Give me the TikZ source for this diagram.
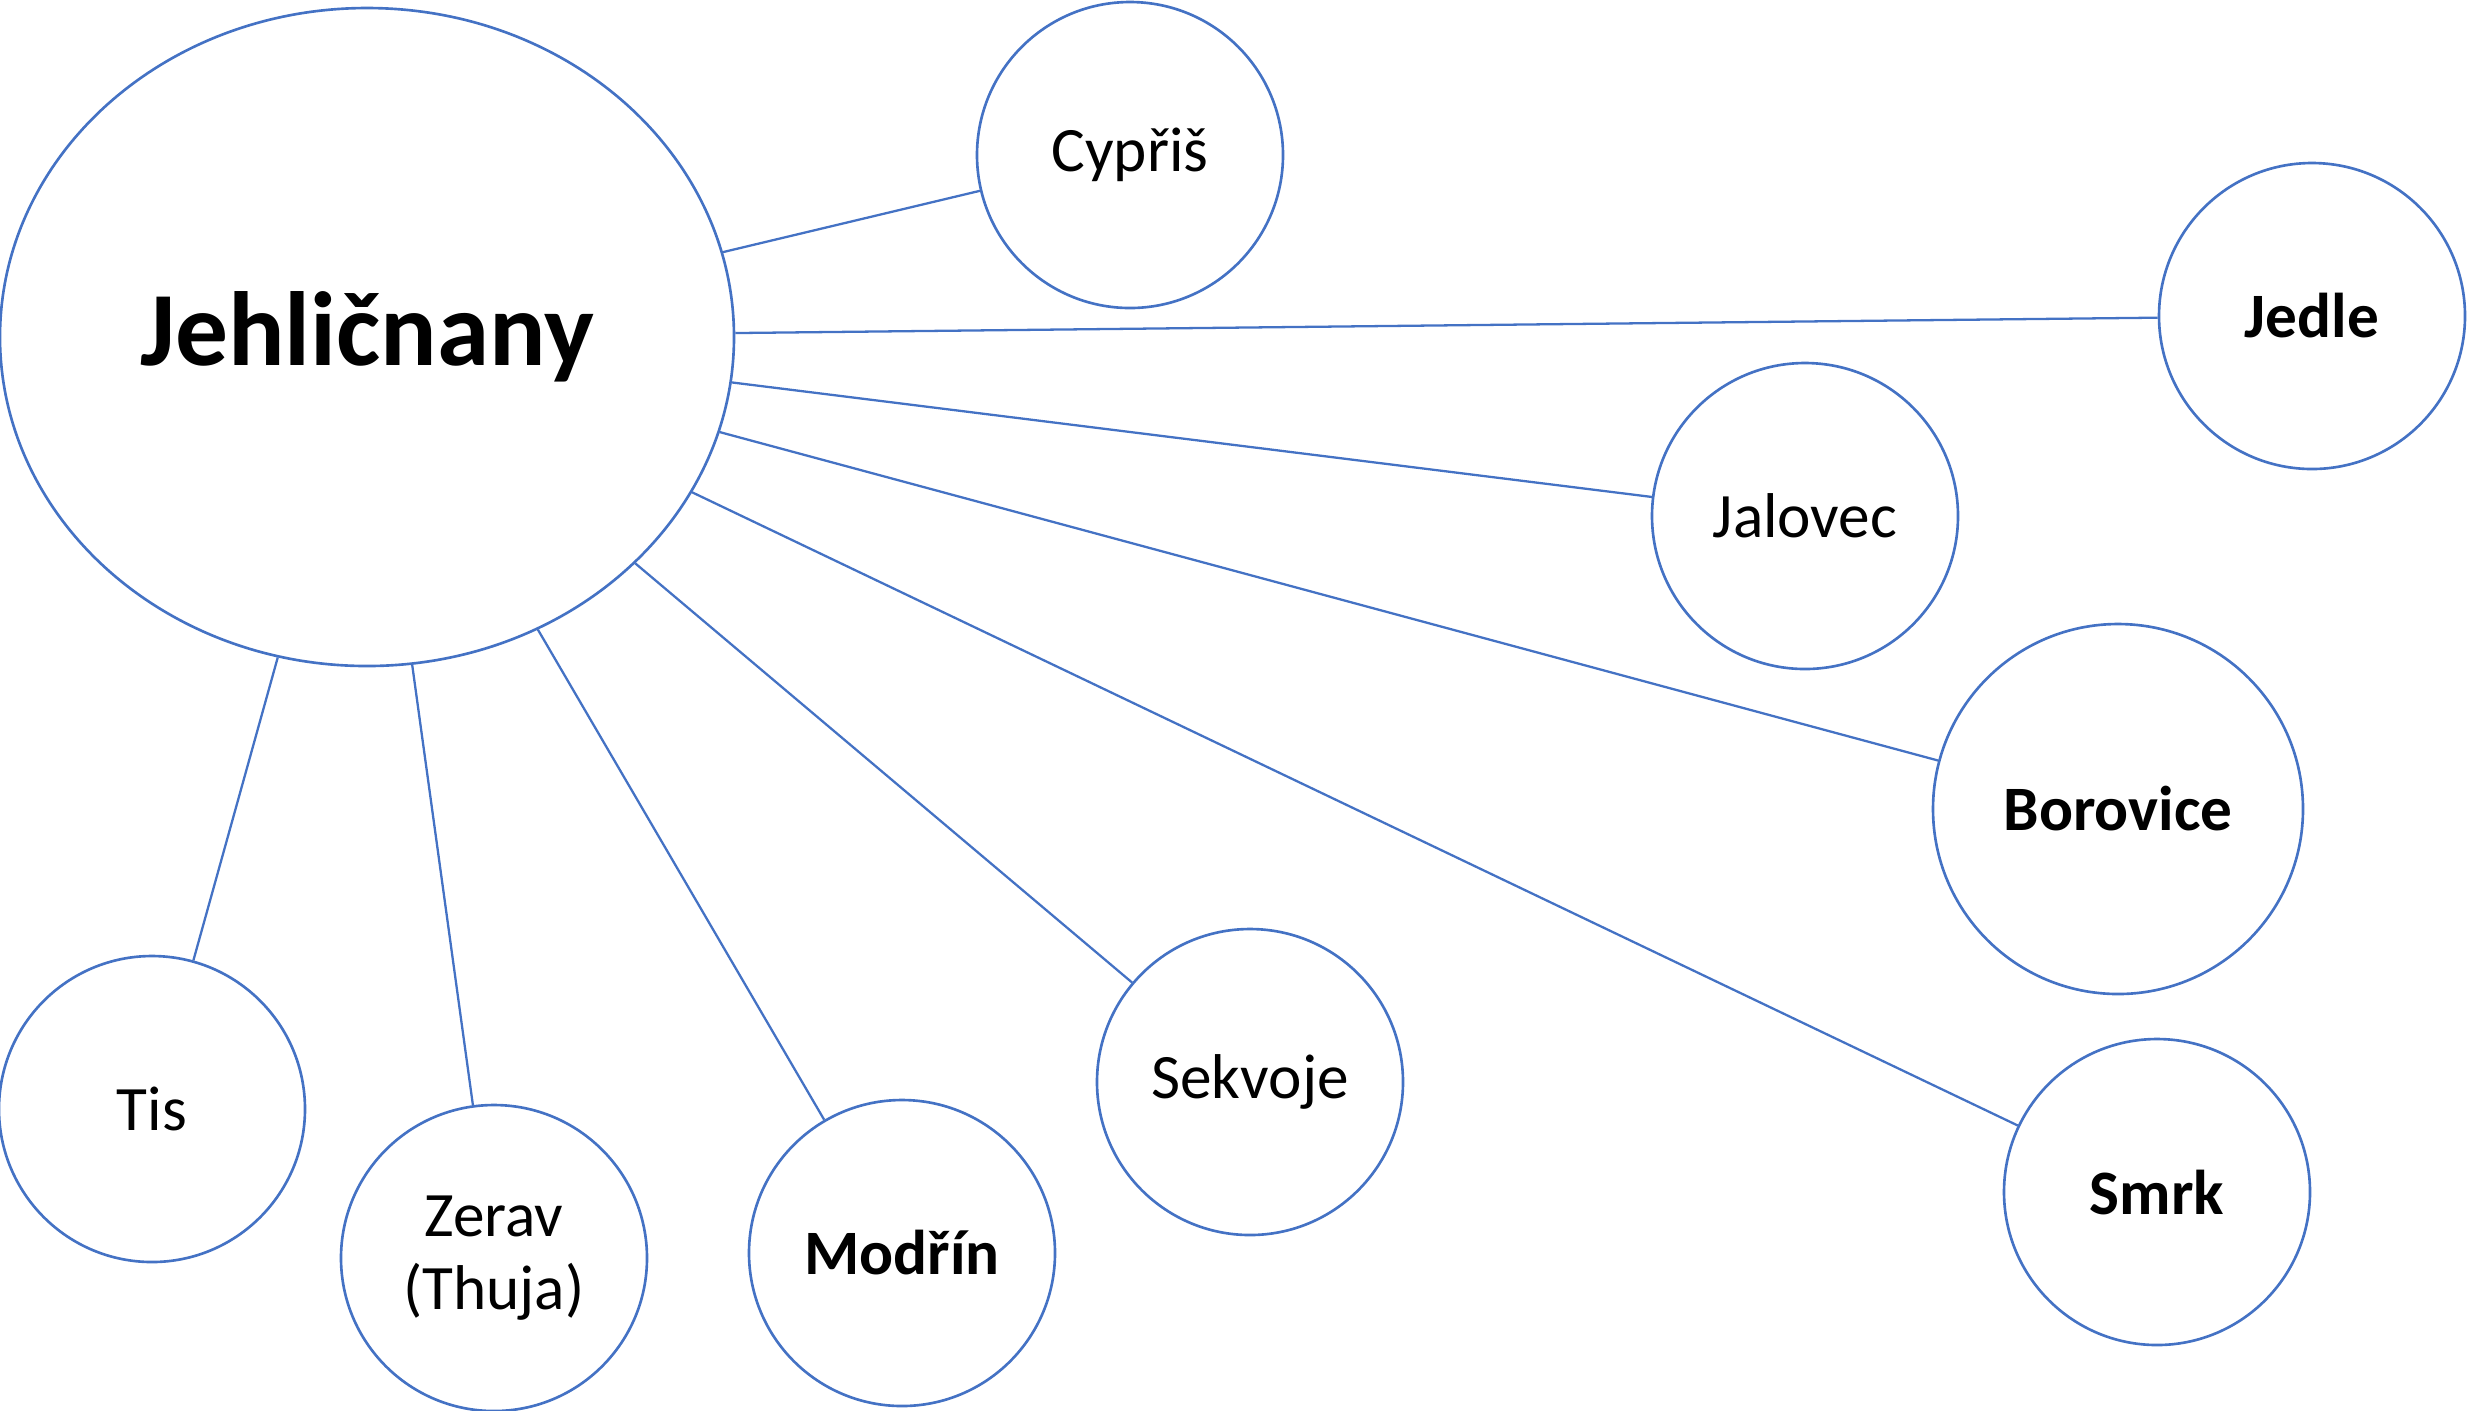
\documentclass[tikz,border=0pt]{standalone}
\usepackage{fontspec}
\setmainfont{Carlito}
\usepackage{tikz}
\usetikzlibrary{shapes.geometric}
\definecolor{ocean}{RGB}{68,114,196}

\begin{document}
\begin{tikzpicture}
        \tikzstyle{leaf}=[circle, draw=ocean, line width=0.75pt, minimum size=3.06cm, inner sep=0pt, align=center, font=\fontsize{18}{21}\selectfont];
        \tikzstyle{link}=[-, line width=0.65pt, ocean];

        \useasboundingbox (0, 0) rectangle (24.68, -14.10);

        \node[ellipse, draw=ocean, line width=0.75pt, minimum width=7.34cm, minimum height=6.58cm, inner sep=0pt, font=\fontsize{30}{36}\selectfont\bfseries] (0) at (3.67, -3.37) {Jehličnany};

        \node (1) at (11.30, -1.55) [leaf] {Cypřiš};
        \node (2) at (23.12, -3.16) [leaf, font=\fontsize{18}{21}\selectfont\bfseries] {Jedle};
        \node (3) at (18.05, -5.16) [leaf] {Jalovec};
        \node (4) at (21.18, -8.09) [leaf, minimum size=3.70cm, font=\fontsize{18}{21}\selectfont\bfseries] {Borovice};
        \node (5) at (21.57, -11.92) [leaf, font=\fontsize{18}{21}\selectfont\bfseries] {Smrk};

        \node (6) at (12.50, -10.82) [leaf] {Sekvoje};
        \node (7) at (9.02, -12.53) [leaf, font=\fontsize{18}{21}\selectfont\bfseries] {Modřín};
        \node (8) at (4.94, -12.58) [leaf] {Zerav\\(Thuja)};
        \node (9) at (1.52, -11.09) [leaf] {Tis};

        \draw (0) edge[link] (1);
        \draw (0) edge[link] (2);
        \draw (0) edge[link] (3);
        \draw (0) edge[link] (4);
        \draw (0) edge[link] (5);

        \draw (0) edge[link] (6);
        \draw (0) edge[link] (7);
        \draw (0) edge[link] (8);
        \draw (0) edge[link] (9);
    \end{tikzpicture}
\end{document}
